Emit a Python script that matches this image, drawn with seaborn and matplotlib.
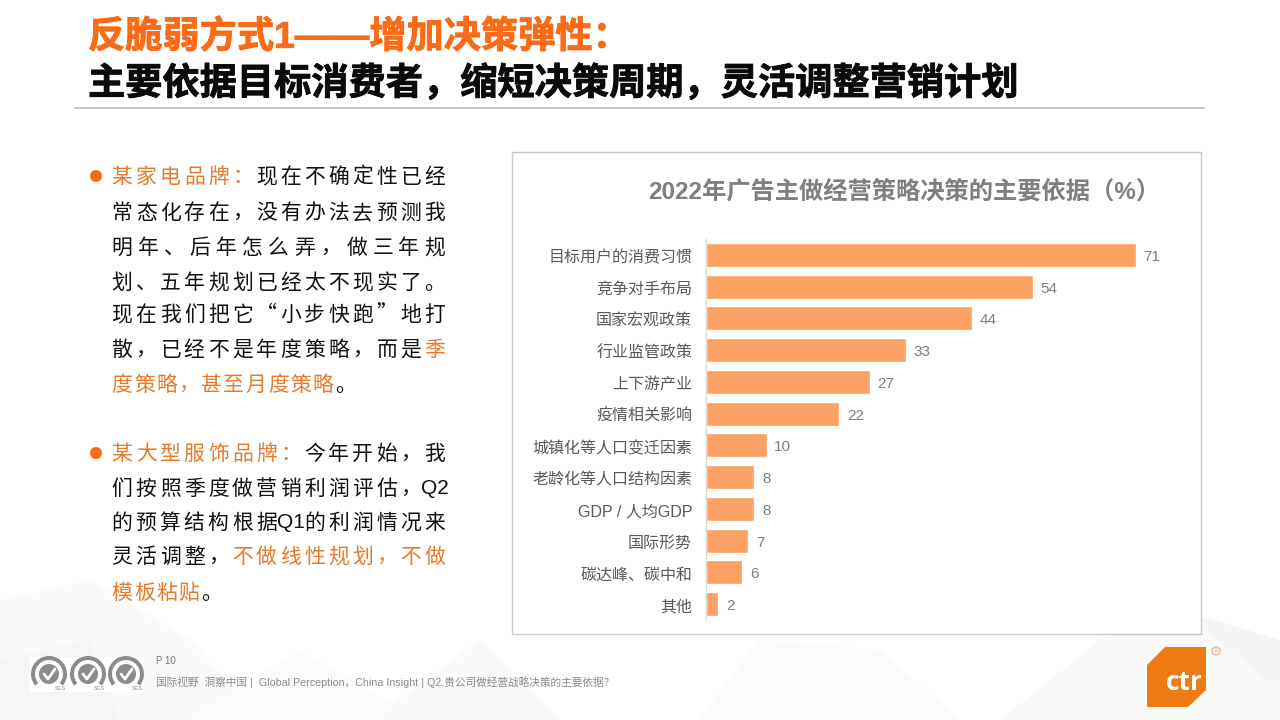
import re
import pandas as pd
import matplotlib
matplotlib.use("Agg")
import matplotlib.pyplot as plt
import matplotlib.patheffects as pe
from matplotlib.patches import Polygon, Rectangle, Wedge, Circle
from matplotlib.transforms import ScaledTranslation
import seaborn as sns

# full width punctuation
COMMA = "\uff0c"
COLON = "\uff1a"
QMARK = "\uff1f"

# Chart data
categories = ["目标用户的消费习惯", "竞争对手布局", "国家宏观政策", "行业监管政策", "上下游产业",
              "疫情相关影响", "城镇化等人口变迁因素", "老龄化等人口结构因素", "GDP / 人均GDP",
              "国际形势", "碳达峰、碳中和", "其他"]
values = [71, 54, 44, 33, 27, 22, 10, 8, 8, 7, 6, 2]

title_orange = "反脆弱方式1——增加决策弹性" + COLON
title_black = f"主要依据目标消费者{COMMA}缩短决策周期{COMMA}灵活调整营销计划"
chart_title = "2022年广告主做经营策略决策的主要依据\uff08%\uff09"
footer_page = "P 10"
footer_text = f"国际视野  洞察中国 |  Global Perception{COMMA}China Insight | Q2.贵公司做经营战略决策的主要依据{QMARK}"

# Left text: line, orange token range, row centre
quote_lines = [
    (f"某家电品牌{COLON}现在不确定性已经", (0, 6), 177),
    (f"常态化存在{COMMA}没有办法去预测我", None, 213),
    (f"明年、后年怎么弄{COMMA}做三年规", None, 248),
    ("划、五年规划已经太不现实了。", None, 283),
    ("现在我们把它“小步快跑”地打", None, 315),
    (f"散{COMMA}已经不是年度策略{COMMA}而是季", (13, 14), 350),
    (f"度策略{COMMA}甚至月度策略。", (0, 10), 385),
    (f"某大型服饰品牌{COLON}今年开始{COMMA}我", (0, 8), 454),
    (f"们按照季度做营销利润评估{COMMA}Q2", None, 489),
    ("的预算结构根据Q1的利润情况来", None, 523),
    (f"灵活调整{COMMA}不做线性规划{COMMA}不做", (5, 15), 557),
    ("模板粘贴。", (0, 4), 593),
]

CJK = ["Noto Sans CJK SC", "DejaVu Sans"]
LATIN_CJK = ["Liberation Sans", "Noto Sans CJK SC"]
ORANGE = "#F96B16"
TEXT_ORANGE = "#E8792B"
BAR = "#FBA164"

sns.set_theme(style="white")
plt.rcParams["font.family"] = CJK

fig = plt.figure(figsize=(12.8, 7.2), dpi=100, facecolor="white")

# Full slide layer in pixel coordinates
bg = fig.add_axes([0, 0, 1, 1], zorder=0)
bg.set_xlim(0, 1280)
bg.set_ylim(720, 0)
bg.axis("off")

# Faint low-poly background
for pts, col in [
    ([(0, 720), (0, 600), (90, 580), (190, 640), (260, 720)], "#FAFAFA"),
    ([(0, 660), (90, 640), (120, 720), (0, 720)], "#F6F6F6"),
    ([(190, 720), (300, 650), (420, 720)], "#FBFBFB"),
    ([(370, 720), (480, 640), (560, 720)], "#FAFAFA"),
    ([(760, 640), (880, 650), (960, 720), (700, 720)], "#FBFBFB"),
    ([(1000, 720), (1100, 640), (1180, 610), (1280, 640), (1280, 720)], "#F9F9F9"),
    ([(1180, 610), (1280, 640), (1280, 690), (1230, 650)], "#F5F5F5"),
]:
    bg.add_patch(Polygon(pts, closed=True, fc=col, ec="none", zorder=1))

# Slide title
heavy = lambda c: [pe.withStroke(linewidth=0.6, foreground=c)]
bg.text(88, 38, title_orange, color=ORANGE, fontsize=26.8, fontweight="bold",
        family=LATIN_CJK, va="center", ha="left", zorder=3, path_effects=heavy(ORANGE))
bg.text(88, 84, title_black, color="#0A0A0A", fontsize=26.8, fontweight="bold",
        family=CJK, va="center", ha="left", zorder=3, path_effects=heavy("#0A0A0A"))
bg.plot([75, 1204], [108, 108], color="#C8C8C8", lw=1.5, zorder=3)


def draw_line(text, orange, y):
    # spread the tokens over the column width, digits stay together
    tokens = re.findall(r"Q\d|.", text)
    x0, x1 = 122, 435
    step = (x1 - x0) / 14
    if len(tokens) >= 13:
        step = (x1 - x0) / (len(tokens) - 1)
    for i, tok in enumerate(tokens):
        col = "#111111"
        if orange and orange[0] <= i < orange[1]:
            col = TEXT_ORANGE
        bg.text(x0 + step * i, y, tok, color=col, fontsize=15, ha="center", va="center",
                family=LATIN_CJK if tok[0] == "Q" else CJK, zorder=3)


for line, orange, y in quote_lines:
    draw_line(line, orange, y)

for y in [176, 453]:
    bg.add_patch(Circle((96, y), 6, fc=ORANGE, ec="none", zorder=3))

# Chart panel
bg.add_patch(Rectangle((512, 152), 689, 482, fc="white", ec="#C9C9C9", lw=1, zorder=2))
bg.text(904, 192, chart_title, color="#7F7F7F", fontsize=17.5, fontweight="bold",
        family=LATIN_CJK, ha="center", va="center", zorder=3)

# Footer
bg.text(156, 661, footer_page, color="#777777", fontsize=7, family=LATIN_CJK, va="center", zorder=3)
bg.text(156, 682, footer_text, color="#8A8A8A", fontsize=7.7, family=LATIN_CJK, va="center", zorder=3)

# SGS marks
bg.add_patch(Rectangle((30, 657), 114, 35, fc="white", ec="none", zorder=2))
for cx in [49, 88, 126]:
    bg.add_patch(Wedge((cx, 674), 18, 140, 400, width=4, fc="#8C8C8C", ec="none", zorder=3))
    bg.add_patch(Circle((cx, 674), 10, fc="#8C8C8C", ec="none", zorder=3))
    bg.plot([cx - 5, cx - 1, cx + 6], [674, 679, 669], color="white", lw=2, zorder=4)
    bg.text(cx + 11, 689, "SGS", color="#8C8C8C", fontsize=3.8, ha="center", va="center",
            family=LATIN_CJK, zorder=4)

# ctr logo
bg.add_patch(Polygon([(1165, 647), (1206, 647), (1206, 690), (1188, 707), (1147, 707), (1147, 665)],
                     closed=True, fc="#EE7A14", ec="none", zorder=3))
bg.text(1184, 682, "ctr", color="white", fontsize=19, fontweight="bold", ha="center", va="center",
        family=["Open Sans", "DejaVu Sans"], zorder=4)
bg.add_patch(Circle((1216, 651), 4, fc="none", ec="#E9A878", lw=0.8, zorder=3))
bg.text(1216, 651, "R", color="#E9A878", fontsize=4, ha="center", va="center", zorder=3)

# Bar chart
df = pd.DataFrame({"category": categories, "value": values})
ax = fig.add_axes([706 / 1280, 1 - 620 / 720, 484 / 1280, 381 / 720], zorder=5)
ax.patch.set_alpha(0)
sns.barplot(data=df, x="value", y="category", color=BAR, saturation=1, width=0.76, ax=ax)
ax.set_xlim(0, 484 / (430 / 71))
ax.set_ylim(11.5, -0.5)
ax.set_xlabel("")
ax.set_ylabel("")
ax.set_xticks([])
ax.tick_params(axis="y", length=0, pad=10, labelcolor="#595959")
shift = ScaledTranslation(0, -1.5 / 100, fig.dpi_scale_trans)
for lab in ax.get_yticklabels():
    lab.set_family(LATIN_CJK)
    lab.set_fontsize(11.5)
    lab.set_transform(lab.get_transform() + shift)
for name in ["top", "right", "bottom"]:
    ax.spines[name].set_visible(False)
ax.spines["left"].set_color("#D9D9D9")
ax.spines["left"].set_linewidth(1)
labels = ax.bar_label(ax.containers[0], padding=6, color="#7F7F7F", fontsize=11, family=LATIN_CJK)
for t in labels:
    t.xyann = (5.5, -1.5)

plt.savefig("out.png", dpi=100)
plt.close()
